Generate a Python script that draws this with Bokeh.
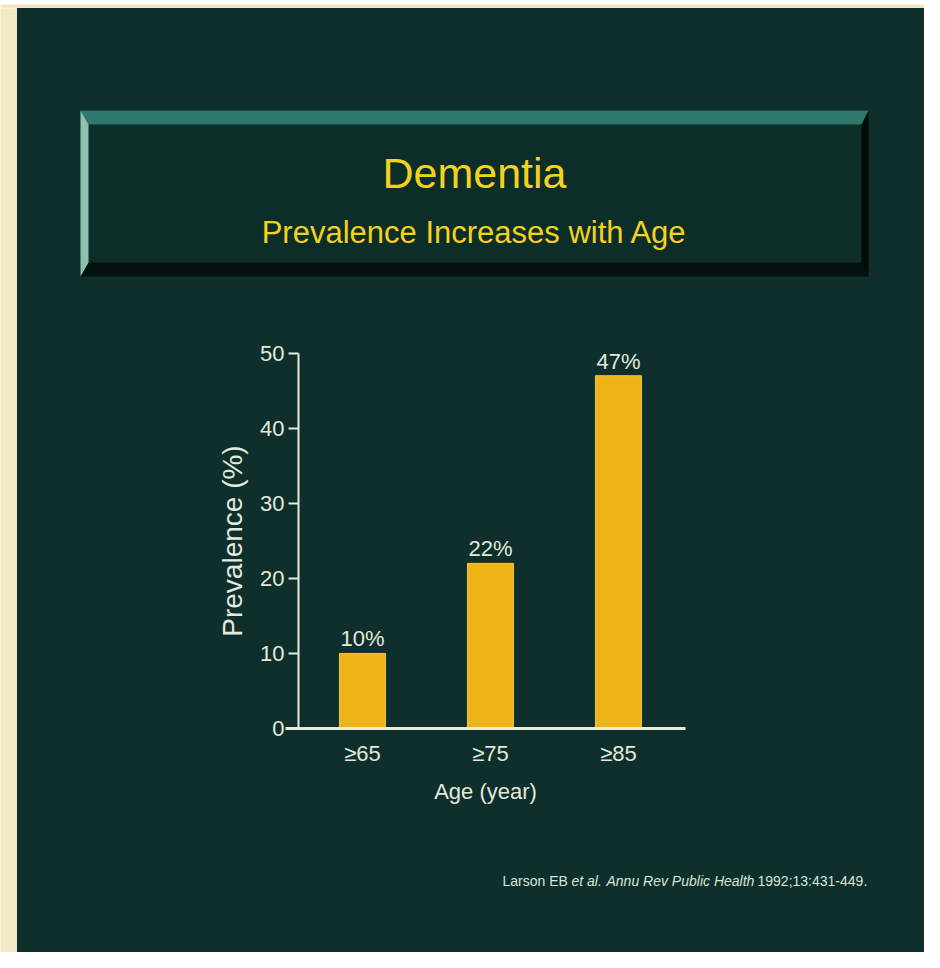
from bokeh.plotting import figure
from bokeh.layouts import row, column
from bokeh.models import (ColumnDataSource, FactorRange, Range1d, FixedTicker, LabelSet)
from bokeh.core.properties import value
from bokeh.embed import file_html
from bokeh.resources import INLINE

# ---------------- data ----------------
categories = ["≥65", "≥75", "≥85"]
prevalence = [10, 22, 47]
bar_labels = ["10%", "22%", "47%"]
y_ticks = [0, 10, 20, 30, 40, 50]
title_text = "Dementia"
subtitle_text = "Prevalence Increases with Age"
x_title = "Age (year)"
y_title = "Prevalence (%)"
citation_parts = ["Larson EB", "et al.", "Annu Rev Public Health", "1992;13:431-449."]

# ---------------- style ----------------
FONT = "Liberation Sans, Arial, Helvetica, sans-serif"
BG = "#0e2f2b"
FACE = "#0d2d29"
CREAM = "#f3e7c4"
BAR = "#efb417"
YEL = "#f1d31f"
TXT = "#e3e9dc"
AXIS = "#e6ecdc"

TOTAL_W, TOTAL_H = 924, 952
TOP_H = 8        # cream edge on top
LEFT_W = 17      # cream edge on the left
W = TOTAL_W - LEFT_W
H = TOTAL_H - TOP_H

# frame of the main figure in picture pixels, and the categorical padding
FRAME_L, FRAME_R = 56, 924
PAD = 1.26042                     # percent range padding of the factor range
N = len(categories)
SPAN = N * (1 + PAD)
START = -N * PAD / 2


def px_x(X):
    """picture x pixel -> synthetic x coordinate of the categorical range"""
    return START + (X - FRAME_L) * SPAN / (FRAME_R - FRAME_L)


def cream_block(w, h):
    f = figure(width=w, height=h, output_backend="svg", toolbar_location=None,
               min_border=0, x_range=Range1d(0, 1), y_range=Range1d(0, 1))
    f.background_fill_color = CREAM
    f.border_fill_color = CREAM
    f.outline_line_color = None
    f.axis.visible = False
    f.grid.visible = False
    f.quad(left=[0], right=[1], bottom=[0], top=[1], fill_color=CREAM, line_color=None)
    return f


top_strip = cream_block(TOTAL_W, TOP_H)
left_strip = cream_block(LEFT_W, H)

# main slide
src = ColumnDataSource(dict(cat=categories, val=prevalence, lab=bar_labels))

p = figure(width=W, height=H,
           x_range=FactorRange(*categories, range_padding=PAD,
                               range_padding_units="percent"),
           y_range=Range1d(-(TOTAL_H - 728) / 7.506, (728 - TOP_H) / 7.506),
           output_backend="svg", toolbar_location=None,
           min_border_left=FRAME_L - LEFT_W, min_border_right=TOTAL_W - FRAME_R,
           min_border_top=0, min_border_bottom=0,
           styles={"background-color": BG})
p.title = None
p.background_fill_color = BG
p.border_fill_color = BG
p.outline_line_color = None
p.grid.visible = False

# picture-pixel vertical coordinate system for the slide decorations
p.extra_y_ranges = {"px": Range1d(TOTAL_H, TOP_H)}
PY = dict(y_range_name="px")

# bevelled title box
L, R, T, B = px_x(80), px_x(868), 110, 276
lw, rw = px_x(88) - px_x(80), px_x(868) - px_x(861)
tw, bw = 14, 14
p.quad(left=[L], right=[R], top=[T], bottom=[B], fill_color=FACE, line_color=None, **PY)
p.patch([L, R, R - rw, L + lw], [B, B, B - bw, B - bw], fill_color="#04100d", line_color=None, **PY)
p.patch([R, R, R - rw, R - rw], [T, B, B - bw, T + tw], fill_color="#030b09", line_color=None, **PY)
p.patch([L, R, R - rw, L + lw], [T, T, T + tw, T + tw], fill_color="#2d776d", line_color=None, **PY)
p.patch([L, L + lw, L + lw, L], [T, T + tw, B - bw, B], fill_color="#8fc1b2", line_color=None, **PY)

p.text(x=[px_x(474)], y=[172], text=[title_text], text_font=value(FONT),
       text_font_size=value("43px"), text_color=YEL, text_align="center",
       text_baseline="alphabetic", **PY)
p.text(x=[px_x(474)], y=[232], text=[subtitle_text], text_font=value(FONT),
       text_font_size=value("31px"), text_color=YEL, text_align="center",
       text_baseline="alphabetic", **PY)

# citation
cit_x = [502, 571, 606, 757]
cit_style = ["normal", "italic", "italic", "normal"]
for txt, xx, st in zip(citation_parts, cit_x, cit_style):
    p.text(x=[px_x(xx)], y=[880], text=[txt], text_font=value(FONT),
           text_font_size=value("14px"), text_font_style=st,
           text_color="#d6e6da", text_align="left", text_baseline="alphabetic", **PY)

# bars and their value labels
p.vbar(x="cat", top="val", width=0.36, source=src,
       fill_color=BAR, line_color="#f5c63a", line_width=1)
p.add_layout(LabelSet(x="cat", y="val", text="lab", source=src,
                      text_font=value(FONT), text_font_size=value("22px"),
                      text_color=TXT, text_align="center",
                      text_baseline="alphabetic", y_offset=7))

# axes (placed inside the frame)
ya = p.yaxis[0]
ya.fixed_location = 0
ya.bounds = (0, 50)
ya.ticker = FixedTicker(ticks=y_ticks)
ya.axis_line_color = AXIS
ya.axis_line_width = 2
ya.major_tick_line_color = AXIS
ya.major_tick_line_width = 2
ya.major_tick_out = 10
ya.major_tick_in = 0
ya.minor_tick_line_color = None
ya.major_label_text_font = FONT
ya.major_label_text_font_size = "22px"
ya.major_label_text_color = TXT
ya.major_label_standoff = 4
ya.axis_label = y_title
ya.axis_label_text_font = FONT
ya.axis_label_text_font_size = "28px"
ya.axis_label_text_font_style = "normal"
ya.axis_label_text_color = TXT
ya.axis_label_standoff = 9

xa = p.xaxis[0]
xa.fixed_location = 0
xa.bounds = (px_x(285), px_x(685))
xa.axis_line_color = AXIS
xa.axis_line_width = 3
xa.major_tick_line_color = None
xa.minor_tick_line_color = None
xa.major_label_text_font = FONT
xa.major_label_text_font_size = "22px"
xa.major_label_text_color = TXT
xa.major_label_standoff = 6
xa.axis_label = x_title
xa.axis_label_text_font = FONT
xa.axis_label_text_font_size = "22px"
xa.axis_label_text_font_style = "normal"
xa.axis_label_text_color = TXT
xa.axis_label_standoff = 10

layout = column(top_strip, row(left_strip, p))
open("out.html", "w").write(file_html(layout, INLINE))
